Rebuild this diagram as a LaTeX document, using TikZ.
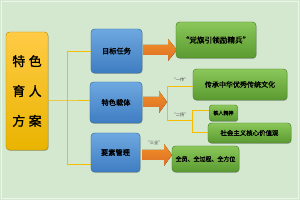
\documentclass[tikz,border=0pt]{standalone}
\usepackage{fontspec}
\setmainfont{Noto Sans CJK SC}
\newfontfamily\heavyfont{Noto Sans CJK SC}[FakeBold=1.5]
\definecolor{bggreen}{HTML}{D4E8CF}
\definecolor{linegold}{HTML}{F5BC00}
\definecolor{arroworange}{HTML}{F27B2C}
\definecolor{yellowtop}{HTML}{FFCB45}
\definecolor{yellowbot}{HTML}{E9B400}
\definecolor{bluetop}{HTML}{6EA8E0}
\definecolor{bluebot}{HTML}{3F7DC2}
\definecolor{greentop}{HTML}{8BC75A}
\definecolor{greenbot}{HTML}{5A9A30}
\definecolor{shadowgray}{HTML}{9CAE98}

\tikzset{
  box/.style={rounded corners=3pt, inner sep=0pt,
    preaction={fill=shadowgray, transform canvas={shift={(0.5pt,-0.7pt)}}}},
  yellowbox/.style={box, top color=yellowtop, bottom color=yellowbot, draw=yellowbot!80!black},
  bluebox/.style={box, top color=bluetop, bottom color=bluebot, draw=bluebot!85!black},
  greenbox/.style={box, top color=greentop, bottom color=greenbot, draw=greenbot!85!black},
  boxtext/.style={text=black, align=center, inner sep=0pt, font=\heavyfont\fontsize{#1}{#1}\selectfont},
  bracket/.style={linegold, line width=0.8pt},
  tag/.style={text=black!75, font=\fontsize{3.6}{4}\selectfont},
}

% orange block arrow: start x, centre y, tip x, head length
\newcommand{\orarrow}[4]{\fill[top color=arroworange!85!yellow, bottom color=arroworange!90!black]
  (#1,#2-5) -- (#3-#4,#2-5) -- (#3-#4,#2-11) -- (#3,#2) -- (#3-#4,#2+11) -- (#3-#4,#2+5) -- (#1,#2+5) -- cycle;}

\begin{document}
\begin{tikzpicture}[x=0.03cm, y=-0.03cm]
\fill[bggreen] (0,0) rectangle (300,200);
\draw[white!60!bggreen, line width=0.4pt] (1.5,1.5) rectangle (298.5,198.5);

% main box and first level
\node[yellowbox, minimum width=1.26cm, minimum height=3.54cm] (fang) at (27,91) {};
\node[bluebox, minimum width=1.53cm, minimum height=1.32cm] (mubiao) at (116.5,51) {};
\node[bluebox, minimum width=1.56cm, minimum height=1.23cm] (zaiti) at (116,102.5) {};
\node[bluebox, minimum width=1.47cm, minimum height=1.17cm] (yaosu) at (115.5,152.5) {};

\coordinate (b1) at (67,100);
\coordinate (b1top) at (67,51);
\coordinate (b1bot) at (67,164);
\draw[bracket] (fang.east |- b1) -- (b1) -- (zaiti.west |- b1);
\draw[bracket] (mubiao.west |- b1top) -- (b1top) -- (b1bot) -- (yaosu.west |- b1bot);

% arrows
\orarrow{143}{50}{177}{9}
\orarrow{143}{102}{167}{8}
\orarrow{142}{155}{172}{8}

% second level
\node[greenbox, minimum width=2.4cm, minimum height=1.08cm] (dangqi) at (216,40) {};
\node[greenbox, minimum width=2.82cm, minimum height=0.93cm] (chuancheng) at (240,84.5) {};
\node[greenbox, minimum width=0.84cm, minimum height=0.48cm, rounded corners=2pt] (tieren) at (223.5,113) {};
\node[greenbox, minimum width=2.49cm, minimum height=0.6cm] (shehui) at (249.5,133) {};
\node[greenbox, minimum width=2.01cm, minimum height=0.78cm] (quanyuan) at (205.5,159) {};

\coordinate (b2top) at (167,86);
\coordinate (b2bot) at (167,120);
\coordinate (b3) at (192,120);
\coordinate (b3top) at (192,110);
\coordinate (b3bot) at (192,132);
\draw[bracket] (chuancheng.west |- b2top) -- (b2top) -- (b2bot) -- (b3);
\draw[bracket] (tieren.west |- b3top) -- (b3top) -- (b3bot) -- (shehui.west |- b3bot);

% texts
\node[boxtext=10.5, font=\heavyfont\fontsize{11}{25.5}\selectfont] (fangtext) at (fang) {特\hspace{3pt}色\\育\hspace{3pt}人\\方\hspace{3pt}案};
\node[boxtext=6.2] (mubiaotext) at (mubiao) {目标任务};
\node[boxtext=6.2] (zaititext) at (zaiti) {特色载体};
\node[boxtext=6.2] (yaosutext) at (yaosu) {要素管理};
\node[boxtext=6.5] (dangqitext) at (dangqi) {“党旗引领励精兵”};
\node[boxtext=6] (chuanchengtext) at (chuancheng) {传承中华优秀传统文化};
\node[boxtext=4.3] (tierentext) at (tieren) {铁人精神};
\node[boxtext=5.5] (shehuitext) at (shehui) {社会主义核心价值观};
\node[boxtext=5.1] (quanyuantext) at (quanyuan) {全员、全过程、全方位};

% tags
\node[tag] (yi) at (180,80) {“一传”};
\node[tag] (er) at (180,115) {“二扬”};
\node[tag] (san) at (154,143) {“三全”};
\end{tikzpicture}
\end{document}
